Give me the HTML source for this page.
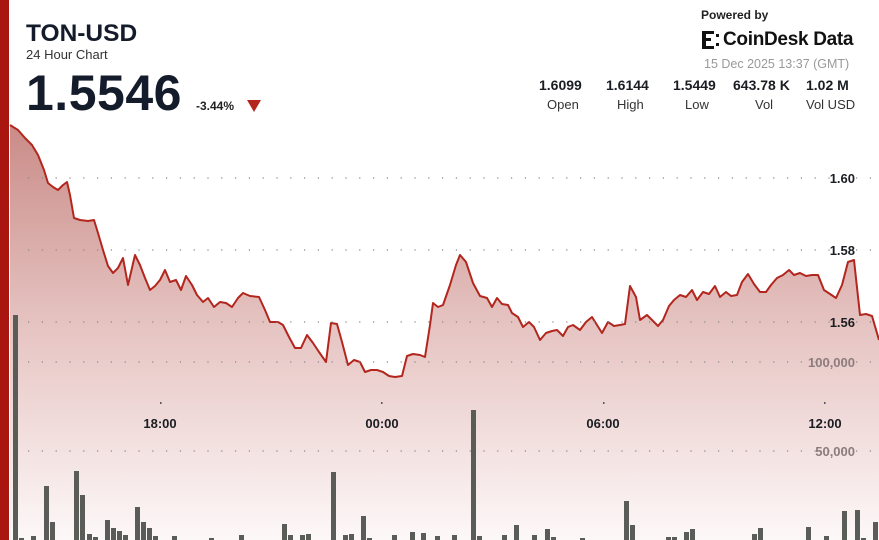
<!DOCTYPE html>
<html><head><meta charset="utf-8"><style>
html,body{margin:0;padding:0;background:#fff;}
body{width:879px;height:540px;overflow:hidden;position:relative;font-family:"Liberation Sans",sans-serif;}
.t{position:absolute;white-space:nowrap;}
</style></head><body>
<svg width="879" height="540" style="position:absolute;left:0;top:0">
<defs>
<linearGradient id="g" gradientUnits="userSpaceOnUse" x1="0" y1="120" x2="0" y2="540">
<stop offset="0" stop-color="#c98a86"/>
<stop offset="0.5" stop-color="#e6c5c3"/>
<stop offset="1" stop-color="#fdf8f8"/>
</linearGradient>
</defs>
<rect x="0" y="0" width="9" height="540" fill="#a8160f"/>
<path fill="url(#g)" d="M10,125 L18,130 25,138 32,145 38,155 44,170 48,183 53,187 58,190 63,185 67,182 70,195 74,218 80,220 88,221 94,220 98,233 103,250 108,266 113,273 118,268 123,258 128,285 135,255 140,265 145,278 150,290 155,286 160,280 165,270 170,282 176,280 181,290 186,276 192,285 197,295 203,302 208,298 214,307 220,302 226,303 232,307 238,298 243,293 250,296 259,297 265,310 270,322 278,322 283,325 289,337 295,348 301,348 307,335 313,343 319,352 326,362 331,323 337,324 342,342 348,365 354,360 360,362 365,372 371,370 377,370 383,372 389,376 395,377 402,376 407,356 413,354 420,355 425,357 430,325 433,303 438,307 443,305 450,285 456,265 460,255 466,262 473,283 480,296 487,298 492,307 497,298 502,304 508,305 512,313 518,317 523,327 529,322 534,327 540,340 546,333 552,331 557,330 563,336 568,327 573,325 580,330 586,322 592,317 597,325 602,333 608,322 614,326 620,325 625,324 630,286 636,297 640,320 647,315 652,320 658,326 663,320 669,306 674,300 680,295 686,297 692,290 697,300 703,292 709,294 715,286 720,297 726,292 731,296 737,295 742,282 748,274 754,284 760,292 766,292 771,285 777,278 783,275 789,270 794,275 800,273 806,276 812,275 818,275 824,290 830,294 836,298 842,285 848,262 854,260 860,315 866,314 872,316 879,340 L879,540 L10,540 Z"/>
<polyline fill="none" stroke="#b3261e" stroke-width="2" stroke-linejoin="round" points="10,125 18,130 25,138 32,145 38,155 44,170 48,183 53,187 58,190 63,185 67,182 70,195 74,218 80,220 88,221 94,220 98,233 103,250 108,266 113,273 118,268 123,258 128,285 135,255 140,265 145,278 150,290 155,286 160,280 165,270 170,282 176,280 181,290 186,276 192,285 197,295 203,302 208,298 214,307 220,302 226,303 232,307 238,298 243,293 250,296 259,297 265,310 270,322 278,322 283,325 289,337 295,348 301,348 307,335 313,343 319,352 326,362 331,323 337,324 342,342 348,365 354,360 360,362 365,372 371,370 377,370 383,372 389,376 395,377 402,376 407,356 413,354 420,355 425,357 430,325 433,303 438,307 443,305 450,285 456,265 460,255 466,262 473,283 480,296 487,298 492,307 497,298 502,304 508,305 512,313 518,317 523,327 529,322 534,327 540,340 546,333 552,331 557,330 563,336 568,327 573,325 580,330 586,322 592,317 597,325 602,333 608,322 614,326 620,325 625,324 630,286 636,297 640,320 647,315 652,320 658,326 663,320 669,306 674,300 680,295 686,297 692,290 697,300 703,292 709,294 715,286 720,297 726,292 731,296 737,295 742,282 748,274 754,284 760,292 766,292 771,285 777,278 783,275 789,270 794,275 800,273 806,276 812,275 818,275 824,290 830,294 836,298 842,285 848,262 854,260 860,315 866,314 872,316 879,340"/>
<g stroke="#888" stroke-width="1.2" stroke-dasharray="1.2,12.6" fill="none">
<line x1="28" y1="178" x2="879" y2="178"/>
<line x1="28" y1="250" x2="879" y2="250"/>
<line x1="28" y1="322" x2="879" y2="322"/>
<line x1="28" y1="362" x2="879" y2="362"/>
<line x1="28" y1="451" x2="879" y2="451"/>
</g>
<g fill="#555">
<rect x="160" y="402" width="1.5" height="2"/><rect x="381" y="402" width="1.5" height="2"/><rect x="603" y="402" width="1.5" height="2"/><rect x="824" y="402" width="1.5" height="2"/>
</g>
<g fill="#5a5c58">
<rect x="13" y="315" width="5" height="225"/>
<rect x="19" y="538" width="5" height="2"/>
<rect x="31" y="536" width="5" height="4"/>
<rect x="44" y="486" width="5" height="54"/>
<rect x="50" y="522" width="5" height="18"/>
<rect x="74" y="471" width="5" height="69"/>
<rect x="80" y="495" width="5" height="45"/>
<rect x="87" y="534" width="5" height="6"/>
<rect x="93" y="537" width="5" height="3"/>
<rect x="105" y="520" width="5" height="20"/>
<rect x="111" y="528" width="5" height="12"/>
<rect x="117" y="531" width="5" height="9"/>
<rect x="123" y="535" width="5" height="5"/>
<rect x="135" y="507" width="5" height="33"/>
<rect x="141" y="522" width="5" height="18"/>
<rect x="147" y="528" width="5" height="12"/>
<rect x="153" y="536" width="5" height="4"/>
<rect x="172" y="536" width="5" height="4"/>
<rect x="209" y="538" width="5" height="2"/>
<rect x="239" y="535" width="5" height="5"/>
<rect x="282" y="524" width="5" height="16"/>
<rect x="288" y="535" width="5" height="5"/>
<rect x="300" y="535" width="5" height="5"/>
<rect x="306" y="534" width="5" height="6"/>
<rect x="331" y="472" width="5" height="68"/>
<rect x="343" y="535" width="5" height="5"/>
<rect x="349" y="534" width="5" height="6"/>
<rect x="361" y="516" width="5" height="24"/>
<rect x="367" y="538" width="5" height="2"/>
<rect x="392" y="535" width="5" height="5"/>
<rect x="410" y="532" width="5" height="8"/>
<rect x="421" y="533" width="5" height="7"/>
<rect x="435" y="536" width="5" height="4"/>
<rect x="452" y="535" width="5" height="5"/>
<rect x="471" y="410" width="5" height="130"/>
<rect x="477" y="536" width="5" height="4"/>
<rect x="502" y="535" width="5" height="5"/>
<rect x="514" y="525" width="5" height="15"/>
<rect x="532" y="535" width="5" height="5"/>
<rect x="545" y="529" width="5" height="11"/>
<rect x="551" y="537" width="5" height="3"/>
<rect x="580" y="538" width="5" height="2"/>
<rect x="624" y="501" width="5" height="39"/>
<rect x="630" y="525" width="5" height="15"/>
<rect x="666" y="537" width="5" height="3"/>
<rect x="672" y="537" width="5" height="3"/>
<rect x="684" y="532" width="5" height="8"/>
<rect x="690" y="529" width="5" height="11"/>
<rect x="752" y="534" width="5" height="6"/>
<rect x="758" y="528" width="5" height="12"/>
<rect x="806" y="527" width="5" height="13"/>
<rect x="824" y="536" width="5" height="4"/>
<rect x="842" y="511" width="5" height="29"/>
<rect x="855" y="510" width="5" height="30"/>
<rect x="861" y="538" width="5" height="2"/>
<rect x="873" y="522" width="5" height="18"/>
</g>
<g font-family="Liberation Sans, sans-serif" font-weight="bold" font-size="13" fill="#1a1d22" text-anchor="end">
<text x="855" y="183">1.60</text>
<text x="855" y="255">1.58</text>
<text x="855" y="327">1.56</text>
</g>
<g font-family="Liberation Sans, sans-serif" font-weight="bold" font-size="13" fill="#8c7c7c" text-anchor="end">
<text x="855" y="367">100,000</text>
<text x="855" y="456">50,000</text>
</g>
<g font-family="Liberation Sans, sans-serif" font-weight="bold" font-size="13" fill="#1a1d22" text-anchor="middle">
<text x="160" y="428">18:00</text>
<text x="382" y="428">00:00</text>
<text x="603" y="428">06:00</text>
<text x="825" y="428">12:00</text>
</g>
<polygon points="247,100 261,100 254,112" fill="#b3261e"/>
<g fill="#111"><rect x="702" y="31" width="4" height="18"/><rect x="706" y="31" width="8" height="3"/><rect x="706" y="46" width="8" height="3"/><rect x="706" y="38" width="5" height="3"/><rect x="716" y="34" width="3" height="3"/><rect x="716" y="43" width="3" height="3"/></g>
</svg>
<div class="t" style="left:26px;top:20px;font-size:24.5px;font-weight:bold;color:#141c2b;">TON-USD</div>
<div class="t" style="left:26px;top:47px;font-size:13px;color:#333;">24 Hour Chart</div>
<div class="t" style="left:26px;top:64px;font-size:50px;font-weight:bold;color:#141c2b;letter-spacing:0.5px;">1.5546</div>
<div class="t" style="left:196px;top:99px;font-size:12px;font-weight:bold;color:#222;">-3.44%</div>
<div class="t" style="left:701px;top:8px;font-size:12px;font-weight:bold;color:#222;">Powered by</div>
<div class="t" style="left:723px;top:29px;font-size:19px;font-weight:bold;color:#111;letter-spacing:-0.3px;">CoinDesk Data</div>
<div class="t" style="left:704px;top:57px;font-size:12.5px;color:#999;">15 Dec 2025 13:37 (GMT)</div>
<div class="t" style="left:539px;top:77px;font-size:14px;font-weight:bold;color:#1a1d22;">1.6099</div>
<div class="t" style="left:606px;top:77px;font-size:14px;font-weight:bold;color:#1a1d22;">1.6144</div>
<div class="t" style="left:673px;top:77px;font-size:14px;font-weight:bold;color:#1a1d22;">1.5449</div>
<div class="t" style="left:733px;top:77px;font-size:14px;font-weight:bold;color:#1a1d22;">643.78 K</div>
<div class="t" style="left:806px;top:77px;font-size:14px;font-weight:bold;color:#1a1d22;">1.02 M</div>
<div class="t" style="left:547px;top:97px;font-size:13px;color:#333;">Open</div>
<div class="t" style="left:617px;top:97px;font-size:13px;color:#333;">High</div>
<div class="t" style="left:685px;top:97px;font-size:13px;color:#333;">Low</div>
<div class="t" style="left:755px;top:97px;font-size:13px;color:#333;">Vol</div>
<div class="t" style="left:806px;top:97px;font-size:13px;color:#333;">Vol USD</div>
</body></html>
